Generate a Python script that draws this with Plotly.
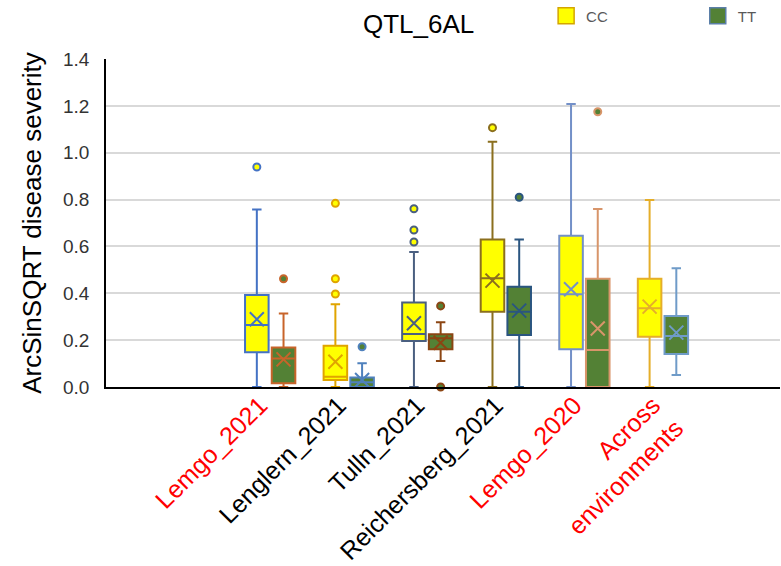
import plotly.graph_objects as go

# Environments on the x axis
categories = ["Lemgo_2021", "Lenglern_2021", "Tulln_2021", "Reichersberg_2021",
              "Lemgo_2020", "Across environments"]
tick_labels = ['<span style="color:red">Lemgo_2021</span>',
               "Lenglern_2021",
               "Tulln_2021",
               "Reichersberg_2021",
               '<span style="color:red">Lemgo_2020</span>',
               '<span style="color:red">Across<br>environments</span>']

# Summary statistics per environment, allele CC
cc_lower = [0.0, 0.0, 0.0, 0.0, 0.0, 0.0]
cc_q1 = [0.148, 0.030, 0.196, 0.321, 0.161, 0.215]
cc_median = [0.265, 0.044, 0.226, 0.464, 0.396, 0.336]
cc_q3 = [0.393, 0.176, 0.361, 0.630, 0.646, 0.462]
cc_upper = [0.758, 0.353, 0.576, 1.047, 1.208, 0.798]
cc_mean = [0.289, 0.108, 0.272, 0.454, 0.417, 0.343]
cc_outliers = [[0.939], [0.784, 0.462, 0.397], [0.761, 0.670, 0.619], [1.107], [], []]

# Summary statistics per environment, allele TT
tt_lower = [0.0, 0.0, 0.111, 0.0, 0.0, 0.051]
tt_q1 = [0.016, 0.0, 0.161, 0.222, 0.0, 0.141]
tt_median = [0.122, 0.020, 0.208, 0.321, 0.158, 0.218]
tt_q3 = [0.169, 0.041, 0.225, 0.428, 0.462, 0.303]
tt_upper = [0.314, 0.101, 0.276, 0.630, 0.760, 0.507]
tt_mean = [0.118, 0.030, 0.189, 0.326, 0.250, 0.232]
tt_outliers = [[0.462], [0.172], [0.346, 0.0], [0.810], [1.175], []]

# Outline colours of each box
cc_edge = ["#4472C4", "#E0A400", "#4A5F80", "#8B6F1E", "#7390C8", "#E5AE2A"]
tt_edge = ["#C8642A", "#4F81BD", "#8B4513", "#2A5580", "#D8956A", "#6F9BC8"]

CC_FILL = "#FFFF00"
TT_FILL = "#538135"
OFFSET = 0.17
BOX_W = 0.3

fig = go.Figure()


def add_group(idx, shift, fill, edge, lo, q1, med, q3, hi, mean, outl):
    pos = idx + shift
    fig.add_trace(go.Box(
        x=[pos], q1=[q1], median=[med], q3=[q3],
        lowerfence=[lo], upperfence=[hi],
        width=BOX_W, whiskerwidth=0.4,
        fillcolor=fill, line=dict(color=edge, width=2),
        boxpoints=False, showlegend=False, hoverinfo="skip",
    ))
    fig.add_trace(go.Scatter(
        x=[pos], y=[mean], mode="markers", showlegend=False, hoverinfo="skip",
        marker=dict(symbol="x-thin", size=14, line=dict(color=edge, width=2)),
    ))
    if outl:
        fig.add_trace(go.Scatter(
            x=[pos] * len(outl), y=outl, mode="markers", showlegend=False,
            hoverinfo="skip", cliponaxis=False,
            marker=dict(symbol="circle", size=7, color=fill,
                        line=dict(color=edge, width=2)),
        ))


for i in range(len(categories)):
    add_group(i, -OFFSET, CC_FILL, cc_edge[i], cc_lower[i], cc_q1[i], cc_median[i],
              cc_q3[i], cc_upper[i], cc_mean[i], cc_outliers[i])
    add_group(i, OFFSET, TT_FILL, tt_edge[i], tt_lower[i], tt_q1[i], tt_median[i],
              tt_q3[i], tt_upper[i], tt_mean[i], tt_outliers[i])

# Legend entries, one legend box each
fig.add_trace(go.Scatter(
    x=[None], y=[None], mode="markers", name="CC", legend="legend",
    marker=dict(symbol="square", size=16, color=CC_FILL,
                line=dict(color="#D4A500", width=1.5)),
))
fig.add_trace(go.Scatter(
    x=[None], y=[None], mode="markers", name="TT", legend="legend2",
    marker=dict(symbol="square", size=16, color=TT_FILL,
                line=dict(color="#5B7FA8", width=1.5)),
))

legend_style = dict(y=1.131, yanchor="middle", xanchor="left",
                    bgcolor="rgba(0,0,0,0)",
                    font=dict(size=15, color="#595959"))

fig.update_layout(
    width=781, height=566,
    margin=dict(l=106, r=1, t=59, b=179, autoexpand=False),
    paper_bgcolor="white", plot_bgcolor="white",
    font=dict(family="Liberation Sans, Arial, sans-serif", color="#000000"),
    title=dict(text="QTL_6AL", x=0.536, xanchor="center", y=0.958, yanchor="middle",
               font=dict(size=26, color="#000000")),
    legend=dict(x=0.653, **legend_style),
    legend2=dict(x=0.878, **legend_style),
    xaxis=dict(
        range=[-2.09, 6.49], tickmode="array",
        tickvals=list(range(len(categories))), ticktext=tick_labels,
        tickangle=-45, tickfont=dict(size=25, color="#000000"),
        ticklabelstandoff=-8, ticklabelshift=-10,
        showgrid=False, zeroline=False, showline=True, linecolor="#000000",
        linewidth=1.5, ticks="",
    ),
    yaxis=dict(
        range=[0, 1.4], tickmode="array",
        tickvals=[0, 0.2, 0.4, 0.6, 0.8, 1.0, 1.2, 1.4], tickformat=".1f",
        tickfont=dict(size=19, color="#333333"),
        ticks="outside", ticklen=11, tickcolor="rgba(0,0,0,0)",
        showgrid=True, gridcolor="#D9D9D9", gridwidth=1.5, zeroline=False,
        showline=True, linecolor="#000000", linewidth=1.5,
        title=dict(text="ArcSinSQRT disease severity", font=dict(size=26, color="#000000"),
                   standoff=14),
    ),
)

fig.write_html("out.html")
